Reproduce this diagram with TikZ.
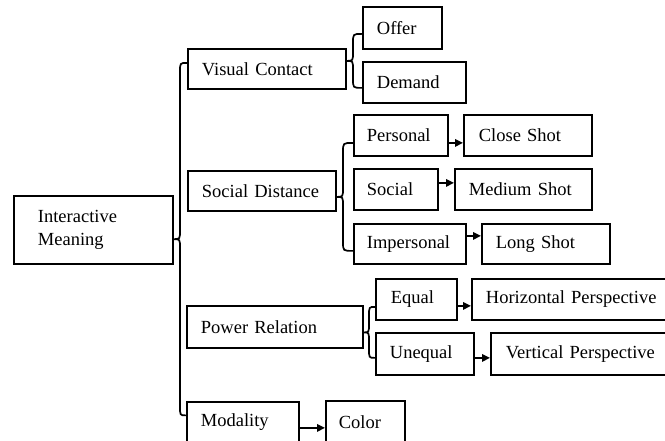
\documentclass[tikz,border=0pt]{standalone}
\usepackage{fontspec}
\setmainfont{Liberation Serif}
\usetikzlibrary{arrows.meta,calc}
\tikzset{
  box/.style={draw, line width=1.8pt, inner xsep=14pt, inner ysep=0pt, align=left,
    anchor=north west, font=\fontsize{18.5}{22.5}\selectfont},
  link/.style={line width=1.7pt},
  arr/.style={line width=1.7pt, -{Triangle[length=8pt,width=7.5pt]}},
}
% #1 parent node, #2 top end, #3 bottom end, #4 horizontal gap to the vertical stroke
\newcommand\curly[4]{%
  \draw[link] let \p1=(#2), \p2=(#3), \p3=(#1.east), \p4=($(#2)!0.5!(#3)$),
     \n5={\x1-#4} in
    (\p1) .. controls (\n5,\y1) .. (\n5,\y1-9pt)
    -- (\n5,\y4+9pt) .. controls (\n5,\y4) .. (\x3,\y4)
    .. controls (\n5,\y4) .. (\n5,\y4-9pt)
    -- (\n5,\y2+9pt) .. controls (\n5,\y2) .. (\p2);
}
\begin{document}
\begin{tikzpicture}[x=1pt,y=-1pt]
\useasboundingbox (0,0) rectangle (665,441);
\clip (0,0) rectangle (665,441);
% level 0
\node[box, inner xsep=24pt, text width=111pt, minimum height=68pt] (im) at (13,195) {Interactive\\Meaning};
% level 1
\node[box, text width=130pt, minimum height=40pt] (vc) at (187,48) {Visual Contact};
\node[box, text width=120pt, minimum height=40pt] (sd) at (187,170) {Social Distance};
\node[box, text width=148pt, minimum height=42pt] (pr) at (186,305) {Power Relation};
\node[box, text width=84pt, minimum height=41pt] (mod) at (186,401) {Modality};
% level 2
\node[box, text width=51pt, minimum height=42pt] (off) at (362,6) {Offer};
\node[box, text width=75pt, minimum height=41pt] (dem) at (362,61) {Demand};
\node[box, inner xsep=13pt, text width=68pt, minimum height=41pt] (per) at (353,114) {Personal};
\node[box, inner xsep=13pt, text width=58pt, minimum height=41pt] (soc) at (353,168) {Social};
\node[box, inner xsep=13pt, text width=86pt, minimum height=40pt] (imp) at (353,223) {Impersonal};
\node[box, inner xsep=15pt, text width=51pt, minimum height=41pt] (eq) at (375,278) {Equal};
\node[box, text width=70pt, minimum height=42pt] (un) at (375,332) {Unequal};
\node[box, inner xsep=13pt, text width=53pt, minimum height=42pt] (col) at (325,400) {Color};
% level 3
\node[box, inner xsep=15pt, text width=98pt, minimum height=41pt] (cs) at (463,114) {Close Shot};
\node[box, text width=109pt, minimum height=41pt] (ms) at (454,168) {Medium Shot};
\node[box, text width=100pt, minimum height=40pt] (ls) at (481,223) {Long Shot};
\node[box, text width=177pt, minimum height=41pt] (hp) at (471,278) {Horizontal Perspective};
\node[box, inner xsep=15pt, text width=155pt, minimum height=42pt] (vp) at (490,332) {Vertical Perspective};
% braces
\coordinate (b1t) at ([yshift=6pt]vc.west);
\coordinate (b1b) at ([yshift=7pt]mod.west);
\curly{im}{b1t}{b1b}{7pt}
\coordinate (b2t) at ([yshift=-6pt]off.west);
\coordinate (b2b) at ([yshift=-5.5pt]dem.west);
\curly{vc}{b2t}{b2b}{9pt}
\coordinate (b3t) at ([yshift=-7.5pt]per.west);
\coordinate (b3b) at ([yshift=-7pt]imp.west);
\curly{sd}{b3t}{b3b}{10pt}
\coordinate (b4t) at ([yshift=-7.5pt]eq.west);
\coordinate (b4b) at ([yshift=-4pt]un.west);
\curly{pr}{b4t}{b4b}{6pt}
% arrows
\draw[arr] ([yshift=-7.5pt]per.east) -- ([yshift=-7.5pt]per.east -| cs.west);
\draw[arr] ([yshift=6.5pt]soc.east) -- ([yshift=6.5pt]soc.east -| ms.west);
\draw[arr] ([yshift=8pt]imp.east) -- ([yshift=8pt]imp.east -| ls.west);
\draw[arr] ([yshift=-6.5pt]eq.east) -- ([yshift=-6.5pt]eq.east -| hp.west);
\draw[arr] ([yshift=-4pt]un.east) -- ([yshift=-4pt]un.east -| vp.west);
\draw[arr] ([yshift=-5.5pt]mod.east) -- ([yshift=-5.5pt]mod.east -| col.west);
\end{tikzpicture}
\end{document}
